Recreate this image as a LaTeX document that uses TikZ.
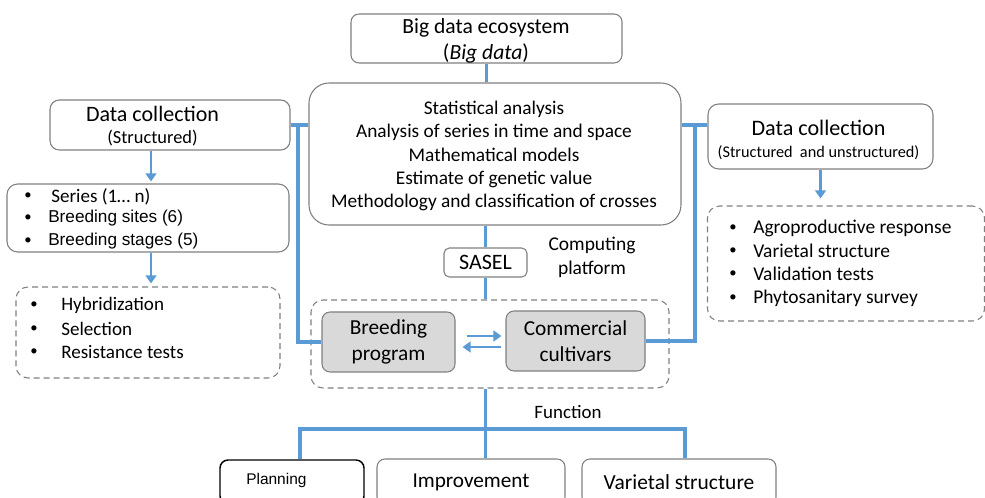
\documentclass[tikz,border=0pt]{standalone}
\usepackage{fontspec}
\setmainfont{Carlito}
\newfontfamily\arialf{Liberation Sans}
\usetikzlibrary{arrows.meta,calc}
\definecolor{lblue}{HTML}{5B9BD5}
\definecolor{bgray}{HTML}{7F7F7F}
\definecolor{fgray}{HTML}{D9D9D9}
\begin{document}
\begin{tikzpicture}[x=0.75pt,y=-0.75pt,
  box/.style={draw=bgray,line width=0.8pt,rounded corners=#1,inner sep=0pt,align=center},
  box/.default=6pt,
  dbox/.style={draw=bgray,line width=0.8pt,rounded corners=9pt,dash pattern=on 4.5pt off 3pt,inner sep=0pt},
  gbox/.style={draw=bgray,line width=0.8pt,fill=fgray,rounded corners=6pt,inner sep=0pt,align=center,font=\fontsize{16}{19.5}\selectfont},
  conn/.style={draw=lblue,line width=2.4pt},
  arr/.style={draw=lblue,line width=2.2pt,-{Triangle[width=8pt,length=6pt]}},
  txt/.style={inner sep=0pt,anchor=west,font=\fontsize{14.3}{17}\selectfont},
  atxt/.style={inner sep=0pt,anchor=west,font=\arialf\fontsize{12.9}{15}\selectfont},
  bul/.style={inner sep=0pt,font=\fontsize{11}{13}\selectfont}
]
\useasboundingbox (0,0) rectangle (985,498);
\clip (0,0) rectangle (985,498);

% top
\node[box=6pt,minimum width=203.25pt,minimum height=36.75pt] (bigdata) at (486.5,38.5) {};
\node[inner sep=0pt,align=center,font=\fontsize{16.2}{18.75}\selectfont] (bigtext) at (486,41) {Big data ecosystem\\[0.8pt](\textit{Big data})};
\node[box=15pt,minimum width=279pt,minimum height=106.5pt] (stats) at (495,154) {};
\node[inner sep=0pt,align=center,font=\fontsize{14.5}{17.6}\selectfont] (statstext) at (494,156)
 {Statistical analysis\\Analysis of series in time and space\\Mathematical models\\Estimate of genetic value\\Methodology and classification of crosses};
\node[box=4pt,minimum width=62.25pt,minimum height=21.75pt,font=\fontsize{16.5}{19}\selectfont] (sasel) at (485.5,262.5) {SASEL};
\node[inner sep=0pt,align=center,font=\fontsize{14.6}{18}\selectfont] (platform) at (592,257) {Computing\\platform};

% center
\node[dbox,minimum width=268.5pt,minimum height=66pt] (outer) at (490,344) {};
\node[gbox,minimum width=99.75pt,minimum height=45pt] (breed) at (388.5,342) {Breeding\\program};
\node[gbox,minimum width=104.25pt,minimum height=45pt] (comm) at (575.5,341) {Commercial\\cultivars};

% left
\node[box=7pt,minimum width=180pt,minimum height=37.5pt] (dcl) at (170,125) {};
\node[inner sep=0pt,align=center] (dcltext) at (152.5,126) {\fontsize{16.5}{17.25}\selectfont Data collection\\[5pt]\fontsize{13.8}{17.25}\selectfont (Structured)};
\node[box=8pt,minimum width=211.5pt,minimum height=51pt] (series) at (148,218) {};
\node[bul] (b1) at (28,196) {\textbullet};
\node[bul] (b2) at (28,218) {\textbullet};
\node[bul] (b3) at (28,241) {\textbullet};
\node[txt] (s1) at (51,196.5) {Series (1\ldots\ n)};
\node[atxt] (s2) at (48,218) {Breeding sites (6)};
\node[atxt] (s3) at (48,241) {Breeding stages (5)};
\node[dbox,minimum width=198pt,minimum height=68.25pt] (hyb) at (148,332.5) {};
\node[bul] (b4) at (34,305) {\textbullet};
\node[bul] (b5) at (34,329) {\textbullet};
\node[bul] (b6) at (34,352) {\textbullet};
\node[txt] (h1) at (61,305) {Hybridization};
\node[txt] (h2) at (61,329) {Selection};
\node[txt] (h3) at (61,352) {Resistance tests};

% right
\node[box=8pt,minimum width=168.75pt,minimum height=48.75pt] (dcr) at (820.5,136.5) {};
\node[inner sep=0pt,align=center] (dcrtext) at (818.5,140) {\fontsize{16.6}{18}\selectfont Data collection\\[5pt]\fontsize{12.2}{15}\selectfont (Structured\ \ and unstructured)};
\node[dbox,minimum width=207.75pt,minimum height=86.25pt] (agro) at (846,263.5) {};
\node[bul] (b7) at (733,228) {\textbullet};
\node[bul] (b8) at (733,251) {\textbullet};
\node[bul] (b9) at (733,274) {\textbullet};
\node[bul] (b10) at (733,298) {\textbullet};
\node[txt,font=\fontsize{14.6}{17}\selectfont] (r1) at (753,228) {Agroproductive response};
\node[txt,font=\fontsize{14.6}{17}\selectfont] (r2) at (753,251) {Varietal structure};
\node[txt,font=\fontsize{14.6}{17}\selectfont] (r3) at (753,274) {Validation tests};
\node[txt,font=\fontsize{14.6}{17}\selectfont] (r4) at (753,298) {Phytosanitary survey};

% bottom
\node[draw=black,line width=1.1pt,rounded corners=6pt,minimum width=108pt,minimum height=33pt,inner sep=0pt] (plan) at (292,482) {};
\node[atxt,font=\arialf\fontsize{11.6}{14}\selectfont] (plantext) at (246,481) {Planning};
\node[box=6pt,minimum width=141pt,minimum height=34.5pt,font=\fontsize{15.9}{18}\selectfont] (impr) at (471,482) {Improvement};
\node[box=6pt,minimum width=145.5pt,minimum height=34.5pt,font=\fontsize{16.1}{18}\selectfont] (var) at (679,482) {Varietal structure};
\node[inner sep=0pt,font=\fontsize{14.2}{17}\selectfont] (func) at (568,412) {Function};

% connectors
\draw[conn] (bigdata.south) -- (bigdata.south |- stats.north);
\draw[conn] (sasel.north) -- (sasel.north |- stats.south);
\draw[conn] (sasel.south) -- (sasel.south |- outer.north);

\coordinate (jl) at (298,125);
\draw[conn] (dcl.east) -- (stats.west |- dcl.east);
\draw[conn] (jl) |- (breed.west);
\coordinate (jr) at (695,125);
\draw[conn] (stats.east |- jr) -- (dcr.west |- jr);
\draw[conn] (jr) |- (comm.east);

\coordinate (al) at (151,0);
\draw[arr] (al |- dcl.south) -- ($(al |- series.north)+(0,-2)$);
\draw[arr] (al |- series.south) -- ($(al |- hyb.north)+(0,-3)$);
\draw[arr] (dcr.south) -- ($(dcr.south |- agro.north)+(0,-7)$);

\draw[arr] ($(breed.east)+(11,-6)$) -- ($(breed.east -| comm.west)+(-4,-6)$);
\draw[arr] ($(breed.east -| comm.west)+(-4,5)$) -- ($(breed.east)+(7,5)$);

\coordinate (fl) at (300,429);
\coordinate (fr) at (685,429);
\draw[conn] (sasel.south |- outer.south) -- (sasel.south |- impr.north);
\draw[conn] (fl |- plan.north) -- (fl) -- (fr) -- (fr |- var.north);
\end{tikzpicture}
\end{document}
